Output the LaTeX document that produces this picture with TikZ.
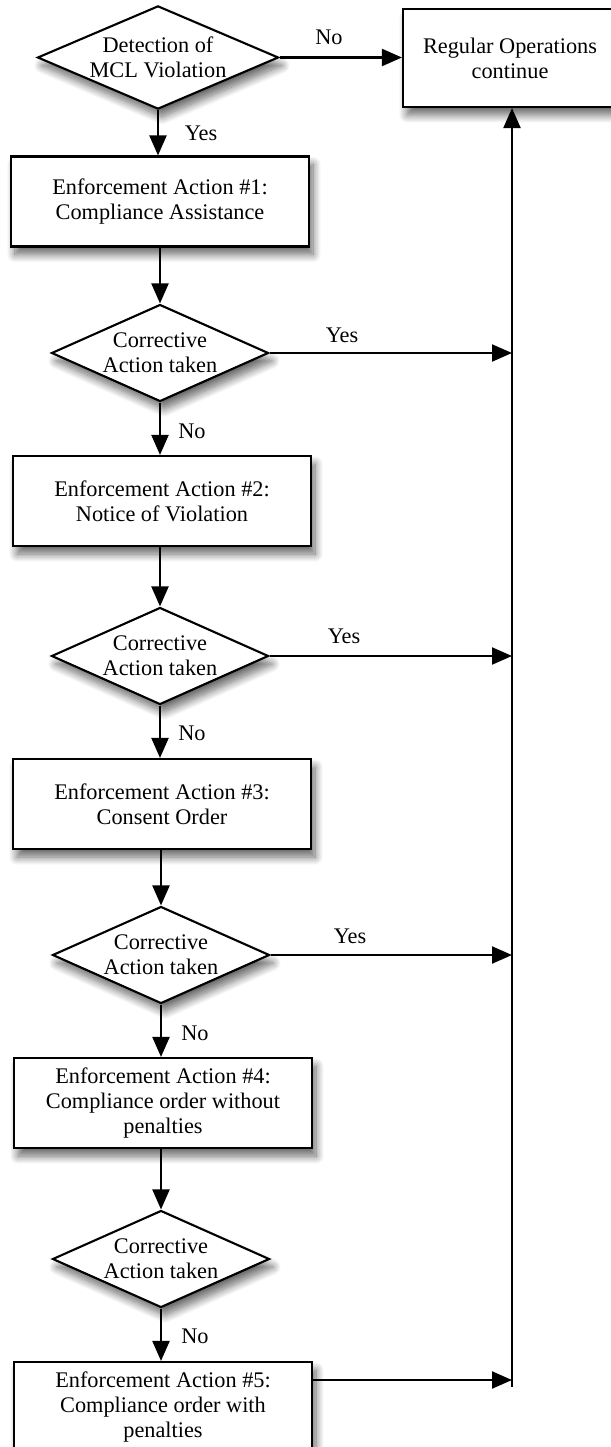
\documentclass[tikz,border=0pt]{standalone}
\usepackage{fontspec}
\setmainfont{Liberation Serif}
\usetikzlibrary{arrows.meta,shapes.geometric,shadows.blur}
\begin{document}
\begin{tikzpicture}[x=1pt,y=-1pt,
  font=\fontsize{22.3}{25}\selectfont,
  shd/.style={blur shadow={shadow xshift=4pt,shadow yshift=-8pt,shadow blur radius=8pt,shadow blur steps=12,shadow opacity=60}},
  proc/.style={draw,line width=2.1pt,fill=white,shd,minimum width=298pt,minimum height=90pt,align=center,inner sep=0pt},
  dec/.style={draw,diamond,line width=2.1pt,fill=white,shd,minimum width=217pt,minimum height=97pt,aspect=2.2,align=center,inner sep=0pt},
  conn/.style={line width=2.1pt,-{Triangle[length=20pt,width=17pt]}},
  lbl/.style={inner sep=0pt}]
\useasboundingbox (0,0) rectangle (610,1447);
\node[dec,minimum width=241pt] (D0) at (158,57.5) {Detection of\\MCL Violation};
\node[proc,minimum width=214pt,minimum height=98pt] (R) at (510,58) {Regular Operations\\continue};
\node[proc] (B1) at (160,201.5) {Enforcement Action \#1:\\Compliance Assistance};
\node[dec] (D1) at (160,353) {Corrective\\Action taken};
\node[proc] (B2) at (162,501) {Enforcement Action \#2:\\Notice of Violation};
\node[dec] (D2) at (160,656) {Corrective\\Action taken};
\node[proc] (B3) at (162,804) {Enforcement Action \#3:\\Consent Order};
\node[dec] (D3) at (161,955) {Corrective\\Action taken};
\node[proc] (B4) at (163,1103) {Enforcement Action \#4:\\Compliance order without\\penalties};
\node[dec] (D4) at (161,1259) {Corrective\\Action taken};
\node[proc] (B5) at (163,1407) {Enforcement Action \#5:\\Compliance order with\\penalties};
\coordinate (Jx) at (512,0);
\coordinate (Jb) at (512,1387);
\coordinate (B5o) at ([yshift=27pt]B5.east);
% main flow
\draw[conn] (D0.east) -- (D0.east -| R.west);
\draw[conn] (D0.south) -- (D0.south |- B1.north);
\draw[conn] (B1.south -| D1.north) -- (D1.north);
\draw[conn] (D1.south) -- (D1.south |- B2.north);
\draw[conn] (B2.south -| D2.north) -- (D2.north);
\draw[conn] (D2.south) -- (D2.south |- B3.north);
\draw[conn] (B3.south -| D3.north) -- (D3.north);
\draw[conn] (D3.south) -- (D3.south |- B4.north);
\draw[conn] (B4.south -| D4.north) -- (D4.north);
\draw[conn] (D4.south) -- (D4.south |- B5.north);
% yes branches
\draw[conn] (D1.east) -- (D1.east -| Jx);
\draw[conn] (D2.east) -- (D2.east -| Jx);
\draw[conn] (D3.east) -- (D3.east -| Jx);
\draw[conn] (B5o) -- (B5o -| Jx);
\draw[conn] (Jb) -- (Jb |- R.south);
% labels
\node[lbl] (l0) at (329,37) {No};
\node[lbl] (l1) at (201,133) {Yes};
\node[lbl] (l2) at (342,335) {Yes};
\node[lbl] (l3) at (192,431) {No};
\node[lbl] (l4) at (344,636) {Yes};
\node[lbl] (l5) at (192,733) {No};
\node[lbl] (l6) at (350,936) {Yes};
\node[lbl] (l7) at (195,1033) {No};
\node[lbl] (l8) at (195,1336) {No};
\end{tikzpicture}
\end{document}
